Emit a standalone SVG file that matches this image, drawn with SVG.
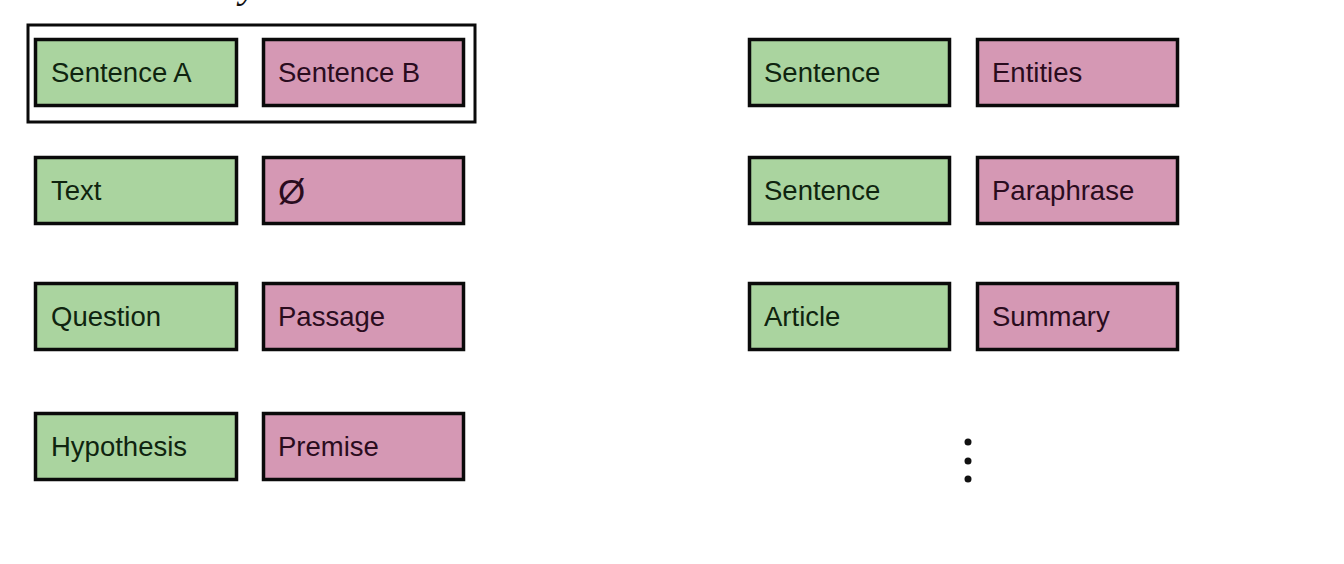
<svg xmlns="http://www.w3.org/2000/svg" width="1344" height="564" viewBox="0 0 1344 564">
<style>
.g{fill:#aad49f;stroke:#0a0a0a;stroke-width:3.5}
.p{fill:#d598b4;stroke:#0a0a0a;stroke-width:3.5}
.t{font-family:"Liberation Sans",Arial,sans-serif;font-size:27.5px}
.tg{fill:#0f240f}
.tp{fill:#2a0c1e}
.dot{fill:#111}
</style>
<rect width="1344" height="564" fill="#ffffff"/>
<text x="240" y="-3" font-family="Liberation Serif,serif" font-style="italic" font-size="40" fill="#111">y</text>
<g id="pair-box"><rect x="28" y="25" width="447" height="97" fill="none" stroke="#0a0a0a" stroke-width="3"/></g>
<g id="n-sentenceA"><rect class="g" x="35.5" y="39.5" width="201" height="66"/><text class="t tg" x="51" y="82">Sentence A</text></g>
<g id="n-sentenceB"><rect class="p" x="263.5" y="39.5" width="200" height="66"/><text class="t tp" x="278" y="82">Sentence B</text></g>
<g id="n-text"><rect class="g" x="35.5" y="157.5" width="201" height="66"/><text class="t tg" x="51" y="200">Text</text></g>
<g id="n-empty"><rect class="p" x="263.5" y="157.5" width="200" height="66"/><text class="t tp" x="278" y="204" style="font-size:35px">Ø</text></g>
<g id="n-question"><rect class="g" x="35.5" y="283.5" width="201" height="66"/><text class="t tg" x="51" y="326">Question</text></g>
<g id="n-passage"><rect class="p" x="263.5" y="283.5" width="200" height="66"/><text class="t tp" x="278" y="326">Passage</text></g>
<g id="n-hypothesis"><rect class="g" x="35.5" y="413.5" width="201" height="66"/><text class="t tg" x="51" y="456">Hypothesis</text></g>
<g id="n-premise"><rect class="p" x="263.5" y="413.5" width="200" height="66"/><text class="t tp" x="278" y="456">Premise</text></g>
<g id="n-sentence1"><rect class="g" x="749.5" y="39.5" width="200" height="66"/><text class="t tg" x="764" y="82">Sentence</text></g>
<g id="n-entities"><rect class="p" x="977.5" y="39.5" width="200" height="66"/><text class="t tp" x="992" y="82">Entities</text></g>
<g id="n-sentence2"><rect class="g" x="749.5" y="157.5" width="200" height="66"/><text class="t tg" x="764" y="200">Sentence</text></g>
<g id="n-paraphrase"><rect class="p" x="977.5" y="157.5" width="200" height="66"/><text class="t tp" x="992" y="200">Paraphrase</text></g>
<g id="n-article"><rect class="g" x="749.5" y="283.5" width="200" height="66"/><text class="t tg" x="764" y="326">Article</text></g>
<g id="n-summary"><rect class="p" x="977.5" y="283.5" width="200" height="66"/><text class="t tp" x="992" y="326">Summary</text></g>
<g id="ellipsis"><circle class="dot" cx="968" cy="442" r="3.5"/><circle class="dot" cx="968" cy="461" r="3.5"/><circle class="dot" cx="968" cy="479" r="3.5"/></g>
<g id="connectors"></g>
</svg>
